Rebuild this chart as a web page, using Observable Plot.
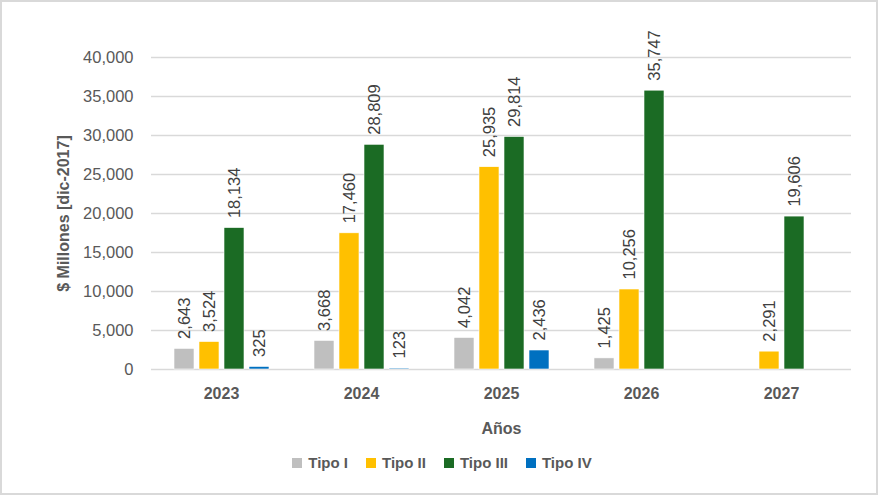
<!DOCTYPE html>
<html>
<head>
<meta charset="utf-8">
<script src="https://cdn.jsdelivr.net/npm/d3@7"></script>
<script src="https://cdn.jsdelivr.net/npm/@observablehq/plot@0.6"></script>
<style>
  html, body { margin: 0; padding: 0; background: #fff; }
  #wrap { position: relative; width: 878px; height: 495px; overflow: hidden; font-family: "Liberation Sans", Arial, sans-serif; }
  #frame { position: absolute; left: 0; top: 0; width: 878px; height: 495px; box-sizing: border-box; border: 2px solid #d9d9d9; pointer-events: none; }
  #chart { position: absolute; left: 0; top: 0; }
  #legend { position: absolute; left: 0; width: 878px; top: 454px; display: flex; justify-content: center; gap: 18px; font-weight: bold; font-size: 15px; color: #595959; padding-left: 6px; box-sizing: border-box; }
  #legend .item { display: flex; align-items: center; gap: 6px; }
  #legend .sw { width: 10px; height: 10px; display: inline-block; }
</style>
</head>
<body>
<div id="wrap">
  <div id="chart"></div>
  <div id="legend"></div>
  <div id="frame"></div>
</div>
<script>
const years = ["2023", "2024", "2025", "2026", "2027"];
const types = ["Tipo I", "Tipo II", "Tipo III", "Tipo IV"];
const colors = ["#BFBFBF", "#FFC000", "#1B6B24", "#0070C0"];
const tipoI   = [2643, 3668, 4042, 1425, null];
const tipoII  = [3524, 17460, 25935, 10256, 2291];
const tipoIII = [18134, 28809, 29814, 35747, 19606];
const tipoIV  = [325, 123, 2436, null, null];
const yTicks = [0, 5000, 10000, 15000, 20000, 25000, 30000, 35000, 40000];
const yLabel = "$ Millones [dic-2017]";
const xLabel = "Años";

const series = [tipoI, tipoII, tipoIII, tipoIV];
const data = [];
years.forEach((yr, i) => {
  types.forEach((t, j) => {
    const v = series[j][i];
    if (v != null) data.push({year: yr, type: t, value: v});
  });
});

const fmt = d3.format(",d");

const chart = Plot.plot({
  width: 878,
  height: 440,
  marginLeft: 151,
  marginRight: 27,
  marginTop: 57,
  marginBottom: 71,
  style: {fontFamily: "Liberation Sans, Arial, sans-serif", color: "#595959", background: "transparent", overflow: "visible"},
  fx: {domain: years, padding: 0},
  x: {domain: types, paddingInner: 0.2, paddingOuter: 0.9, axis: null},
  y: {domain: [0, 40000]},
  color: {domain: types, range: colors},
  marks: [
    Plot.ruleY(yTicks, {stroke: "#d9d9d9", strokeWidth: 1.5}),
    Plot.barY(data, {fx: "year", x: "type", y: "value", fill: "type", stroke: "#ffffff", strokeWidth: 0.6}),
    Plot.text(data, {fx: "year", x: "type", y: "value", text: d => fmt(d.value), rotate: -90, textAnchor: "start", lineAnchor: "middle", dy: -10, fill: "#404040", fontSize: 16.5}),
    Plot.axisY({ticks: yTicks, tickFormat: d => fmt(d), tickSize: 0, tickPadding: 18, fontSize: 16.5, label: yLabel, labelAnchor: "center", labelArrow: "none", labelOffset: 94}),
    Plot.axisFx({anchor: "bottom", tickSize: 0, tickPadding: 18, fontSize: 16, fontWeight: "bold", label: xLabel, labelAnchor: "center", labelArrow: "none", labelOffset: 64})
  ]
});
document.getElementById("chart").appendChild(chart);

// style axis labels bold
chart.querySelectorAll('[aria-label="y-axis label"] text, [aria-label="fx-axis label"] text').forEach(t => {
  t.setAttribute("font-weight", "bold");
  t.setAttribute("font-size", "16");
});

const legend = document.getElementById("legend");
types.forEach((t, i) => {
  const item = document.createElement("div");
  item.className = "item";
  const sw = document.createElement("span");
  sw.className = "sw";
  sw.style.background = colors[i];
  const lb = document.createElement("span");
  lb.textContent = t;
  item.appendChild(sw);
  item.appendChild(lb);
  legend.appendChild(item);
});
</script>
</body>
</html>
